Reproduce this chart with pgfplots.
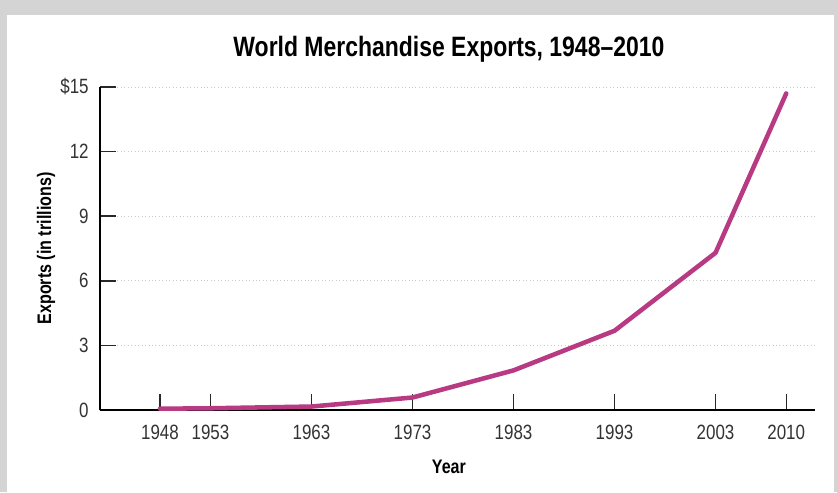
\documentclass[border=0pt]{standalone}
\usepackage{fontspec}
\setmainfont{Liberation Sans}[FakeStretch=0.82]
\usepackage{pgfplots}
\pgfplotsset{compat=1.18}
\definecolor{lineC}{RGB}{184,58,130}
\definecolor{gridC}{RGB}{196,202,212}
\definecolor{frameC}{RGB}{212,212,212}
\definecolor{tickC}{RGB}{40,40,40}
\begin{document}
\begin{tikzpicture}[x=0.75pt,y=0.75pt]
% page background and white panel (pixel units)
\fill[frameC] (0,0) rectangle (837,492);
\fill[white] (7,0) rectangle (834,477);
\begin{axis}[
    at={(75pt,61.5pt)}, anchor=south west,
    scale only axis,
    width=536.25pt, height=242.25pt,
    xmin=1942.06, xmax=2012.85,
    ymin=0, ymax=15,
    axis x line=bottom, axis y line=left,
    axis line style={black, line width=1.3pt, -},
    xtick={1948,1953,1963,1973,1983,1993,2003,2010},
    xticklabels={1948,1953,1963,1973,1983,1993,2003,2010},
    ytick={0,3,6,9,12,15},
    yticklabels={0,3,6,9,12,\$15},
    tick align=inside,
    major tick length=12pt,
    xtick style={tickC, line width=0.8pt},
    ytick style={tickC, line width=1.2pt},
    ymajorgrids,
    grid style={gridC, line width=0.6pt, dotted},
    tick label style={font=\fontsize{15.5}{18}\selectfont, text=black!80},
    /pgf/number format/assume math mode=true,
    xticklabel style={yshift=-8pt},
    yticklabel style={xshift=-5pt},
    xlabel={\bfseries Year},
    ylabel={\bfseries Exports (in trillions)},
    label style={font=\fontsize{14.7}{17}\selectfont},
    xlabel style={at={(rel axis cs:0.488,0)}, anchor=north, yshift=-34pt},
    ylabel style={at={(rel axis cs:0,0.5)}, anchor=south, yshift=30pt},
    clip=false,
]
\addplot[lineC, line width=3.4pt, line join=round, line cap=round] coordinates {
    (1948,0.06) (1953,0.08) (1963,0.16) (1973,0.58)
    (1983,1.84) (1993,3.68) (2003,7.3) (2010,14.7)
};
\node[font=\fontsize{21}{24}\selectfont\bfseries, anchor=center]
    at (rel axis cs:0.488,1.0) [yshift=28pt] {World Merchandise Exports, 1948--2010};
\end{axis}
\end{tikzpicture}
\end{document}
